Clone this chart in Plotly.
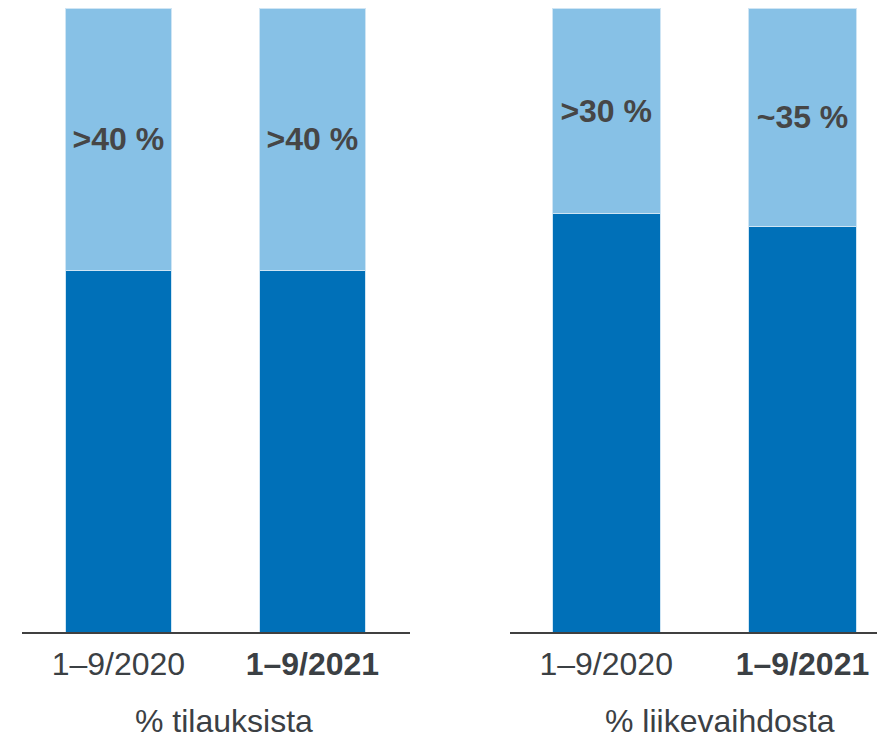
import plotly.graph_objects as go

categories = ["1–9/2020", "1–9/2021"]
tick_labels = ["1–9/2020", "<b>1–9/2021</b>"]
orders_base = [58, 58]
orders_top = [42, 42]
orders_labels = [">40 %", ">40 %"]
sales_base = [67, 65]
sales_top = [33, 35]
sales_labels = [">30 %", "~35 %"]
panel_titles = ["% tilauksista", "% liikevaihdosta"]

DARK = "#0070B8"
LIGHT = "#87C1E6"
TXT = "#464646"
TICK = "#3B4044"
FONT = "Liberation Sans, Arial, sans-serif"

# page has an 8px body margin; figure is sized/positioned to compensate
OFF = 8
W, H = 885 - OFF, 739 - OFF

xpos = list(range(len(categories)))

fig = go.Figure()
for base, top, labels, xa in [(orders_base, orders_top, orders_labels, "x"),
                              (sales_base, sales_top, sales_labels, "x2")]:
    ya = "y" if xa == "x" else "y2"
    fig.add_trace(go.Bar(x=xpos, y=base, xaxis=xa, yaxis=ya,
                         marker=dict(color=DARK, line=dict(color="#cfe5f4", width=1)),
                         width=0.55, showlegend=False, hoverinfo="skip"))
    fig.add_trace(go.Bar(x=xpos, y=top, xaxis=xa, yaxis=ya,
                         marker=dict(color=LIGHT, line=dict(color="#cfe5f4", width=1)),
                         width=0.55, text=[f"<b>{t}</b>" for t in labels],
                         textposition="inside", insidetextanchor="middle",
                         textfont=dict(family=FONT, size=32, color=TXT),
                         constraintext="none", textangle=0,
                         showlegend=False, hoverinfo="skip"))

y0 = (H - (632 - OFF)) / H
y1 = 1.0

axis_common = dict(showgrid=False, zeroline=False, showline=True, linecolor="#404040",
                   linewidth=2, ticks="", tickvals=xpos, ticktext=tick_labels,
                   ticklabelstandoff=3,
                   tickfont=dict(family=FONT, size=32, color=TICK), fixedrange=True)
fig.update_layout(
    barmode="stack",
    width=W, height=H,
    margin=dict(l=0, r=0, t=0, b=0),
    paper_bgcolor="white", plot_bgcolor="white",
    xaxis=dict(domain=[(22 - OFF) / W, (410 - OFF) / W], range=[-0.497, 1.503], anchor="y", **axis_common),
    xaxis2=dict(domain=[(510 - OFF) / W, (883 - OFF) / W], range=[-0.49, 1.41], anchor="y2", **axis_common),
    yaxis=dict(domain=[y0, y1], range=[0, 100], visible=False, fixedrange=True),
    yaxis2=dict(domain=[y0, y1], range=[0, 100], visible=False, anchor="x2", fixedrange=True),
    font=dict(family=FONT),
)

for title, xc in zip(panel_titles, [224, 720]):
    fig.add_annotation(text=title, x=(xc - OFF) / W, y=0, xref="paper", yref="paper",
                       showarrow=False, xanchor="center", yanchor="bottom", yshift=-2,
                       font=dict(family=FONT, size=32, color=TICK))

fig.write_html("out.html")
